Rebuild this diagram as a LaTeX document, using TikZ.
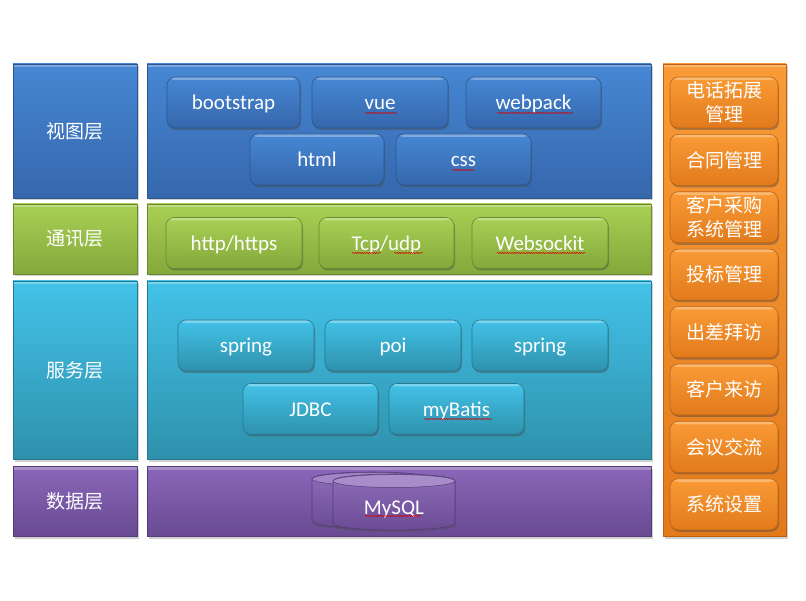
\documentclass[tikz,border=0pt]{standalone}
\usepackage{fontspec}
\setmainfont{Carlito}
\newfontfamily\cjk{Noto Sans CJK SC}
\usetikzlibrary{shadows,decorations.pathmorphing}
\definecolor{bluetop}{HTML}{4787D4}
\definecolor{bluebot}{HTML}{3567AC}
\definecolor{blueedge}{HTML}{2C568C}
\definecolor{greentop}{HTML}{A9D055}
\definecolor{greenbot}{HTML}{84A83B}
\definecolor{greenedge}{HTML}{6A8A2C}
\definecolor{cyantop}{HTML}{43C2E8}
\definecolor{cyanbot}{HTML}{2E91AC}
\definecolor{cyanedge}{HTML}{25788F}
\definecolor{purptop}{HTML}{8B67B9}
\definecolor{purpbot}{HTML}{684A92}
\definecolor{purpedge}{HTML}{553C78}
\definecolor{orgtop}{HTML}{F99B36}
\definecolor{orgbot}{HTML}{E27A1C}
\definecolor{orgedge}{HTML}{BE6212}
\tikzset{
  layer/.style n args={3}{draw=#3, line width=0.6pt, top color=#1, bottom color=#2,
    inner sep=0pt, text=white,
    drop shadow={shadow xshift=1.5pt, shadow yshift=-2.5pt, opacity=0.3, fill=black!60},
    path picture={\fill[white,opacity=0.28] (path picture bounding box.north west) rectangle ([yshift=-3.5pt]path picture bounding box.north east);}},
  btn/.style n args={3}{draw=#3, line width=0.6pt, rounded corners=8pt, top color=#1, bottom color=#2,
    inner sep=0pt, text=white, font=\fontsize{21}{24}\selectfont, align=center,
    text height=15pt, text depth=0pt,
    drop shadow={shadow xshift=1pt, shadow yshift=-2pt, opacity=0.45, fill=black!70},
    path picture={\fill[white,opacity=0.3] (path picture bounding box.north west) rectangle ([yshift=-3pt]path picture bounding box.north east);}},
  lab/.style={font=\cjk\fontsize{19}{23}\selectfont},
  bbtn/.style={btn={bluetop}{bluebot}{blueedge}, minimum height=51pt},
  gbtn/.style={btn={greentop}{greenbot}{greenedge}, minimum height=51pt},
  cbtn/.style={btn={cyantop}{cyanbot}{cyanedge}, minimum height=51pt},
  obtn/.style={btn={orgtop}{orgbot}{orgedge}, minimum width=108pt, minimum height=51pt,
    font=\cjk\fontsize{19}{24}\selectfont, text height=, text depth=},
  squig/.style={draw=red!85!black, line width=0.5pt, decorate, decoration={snake, amplitude=0.6pt, segment length=2.4pt}}
}
\begin{document}
\begin{tikzpicture}[x=1pt,y=-1pt]
\useasboundingbox[fill=white] (0,0) rectangle (806,601);
% left labels
\node[layer={bluetop}{bluebot}{blueedge}, minimum width=124pt, minimum height=134pt, lab] (lview) at (75,131) {视图层};
\node[layer={greentop}{greenbot}{greenedge}, minimum width=124pt, minimum height=70pt, lab] (lcomm) at (75,239) {通讯层};
\node[layer={cyantop}{cyanbot}{cyanedge}, minimum width=124pt, minimum height=178pt, lab] (lserv) at (75,370) {服务层};
\node[layer={purptop}{purpbot}{purpedge}, minimum width=124pt, minimum height=70pt, lab] (ldata) at (75,501) {数据层};
% middle panels
\node[layer={bluetop}{bluebot}{blueedge}, minimum width=504pt, minimum height=134pt] (pview) at (399,131) {};
\node[layer={greentop}{greenbot}{greenedge}, minimum width=504pt, minimum height=70pt] (pcomm) at (399,239) {};
\node[layer={cyantop}{cyanbot}{cyanedge}, minimum width=504pt, minimum height=178pt] (pserv) at (399,370) {};
\node[layer={purptop}{purpbot}{purpedge}, minimum width=504pt, minimum height=70pt] (pdata) at (399,501) {};
% right panel
\node[layer={orgtop}{orgbot}{orgedge}, minimum width=123pt, minimum height=472pt] (pright) at (724.5,300) {};
% view buttons
\node[bbtn, minimum width=133pt] (bootstrap) at (233.5,102.5) {bootstrap};
\node[bbtn, minimum width=136pt] (vue) at (380,102.5) {vue};
\node[bbtn, minimum width=135pt] (webpack) at (533.5,102.5) {webpack};
\node[bbtn, minimum width=134pt] (html) at (317,159.5) {html};
\node[bbtn, minimum width=135pt] (css) at (463.5,159.5) {css};
% comm buttons
\node[gbtn, minimum width=136pt] (http) at (234,243) {http/https};
\node[gbtn, minimum width=135pt] (tcp) at (386.5,243) {Tcp/udp};
\node[gbtn, minimum width=136pt] (ws) at (540,243) {Websockit};
% service buttons
\node[cbtn, minimum width=136pt] (spring1) at (246,345.5) {spring};
\node[cbtn, minimum width=136pt] (poi) at (393,345.5) {poi};
\node[cbtn, minimum width=136pt] (spring2) at (540,345.5) {spring};
\node[cbtn, minimum width=135pt] (jdbc) at (310.5,409) {JDBC};
\node[cbtn, minimum width=135pt] (mybatis) at (456.5,409) {myBatis};
% database cylinders
\path[top color=purptop!95!white, bottom color=purpbot, draw=purpedge, line width=0.6pt,
  drop shadow={shadow xshift=1pt, shadow yshift=-2pt, opacity=0.35, fill=black!70}]
  (312,479) -- (312,521) .. controls (312,530.3) and (432,530.3) .. (432,521) -- (432,479)
  .. controls (432,469.7) and (312,469.7) .. (312,479) -- cycle;
\draw[draw=purpedge, fill=purptop!80!white, line width=0.5pt] (372,479) ellipse [x radius=60, y radius=6.5];
\path[top color=purptop!95!white, bottom color=purpbot, draw=purpedge, line width=0.6pt,
  drop shadow={shadow xshift=1pt, shadow yshift=-2pt, opacity=0.35, fill=black!70}]
  (333,481) -- (333,523) .. controls (333,532.3) and (455,532.3) .. (455,523) -- (455,481)
  .. controls (455,471.7) and (333,471.7) .. (333,481) -- cycle;
\draw[draw=purpedge, fill=purptop!75!white, line width=0.5pt] (394,481) ellipse [x radius=61, y radius=6.5];
\node[text=white, font=\fontsize{21}{24}\selectfont, inner sep=0pt, text height=15pt, text depth=0pt] (mysql) at (394,507) {MySQL};
% right buttons
\node[obtn] (o1) at (724,102.5) {电话拓展\\管理};
\node[obtn] (o2) at (724,159.9) {合同管理};
\node[obtn] (o3) at (724,217.3) {客户采购\\系统管理};
\node[obtn] (o4) at (724,274.7) {投标管理};
\node[obtn] (o5) at (724,332.1) {出差拜访};
\node[obtn] (o6) at (724,389.5) {客户来访};
\node[obtn] (o7) at (724,446.9) {会议交流};
\node[obtn] (o8) at (724,504.3) {系统设置};
% spell-check underlines
\draw[squig] (365,113) -- (397,113);
\draw[squig] (497,113) -- (573,113);
\draw[squig] (452,170) -- (474,170);
\draw[squig] (352,253) -- (381,253);
\draw[squig] (394,253) -- (423,253);
\draw[squig] (497,253) -- (585,253);
\draw[squig] (424,419) -- (492,419);
\draw[squig] (365,516) -- (421,516);
\end{tikzpicture}
\end{document}
